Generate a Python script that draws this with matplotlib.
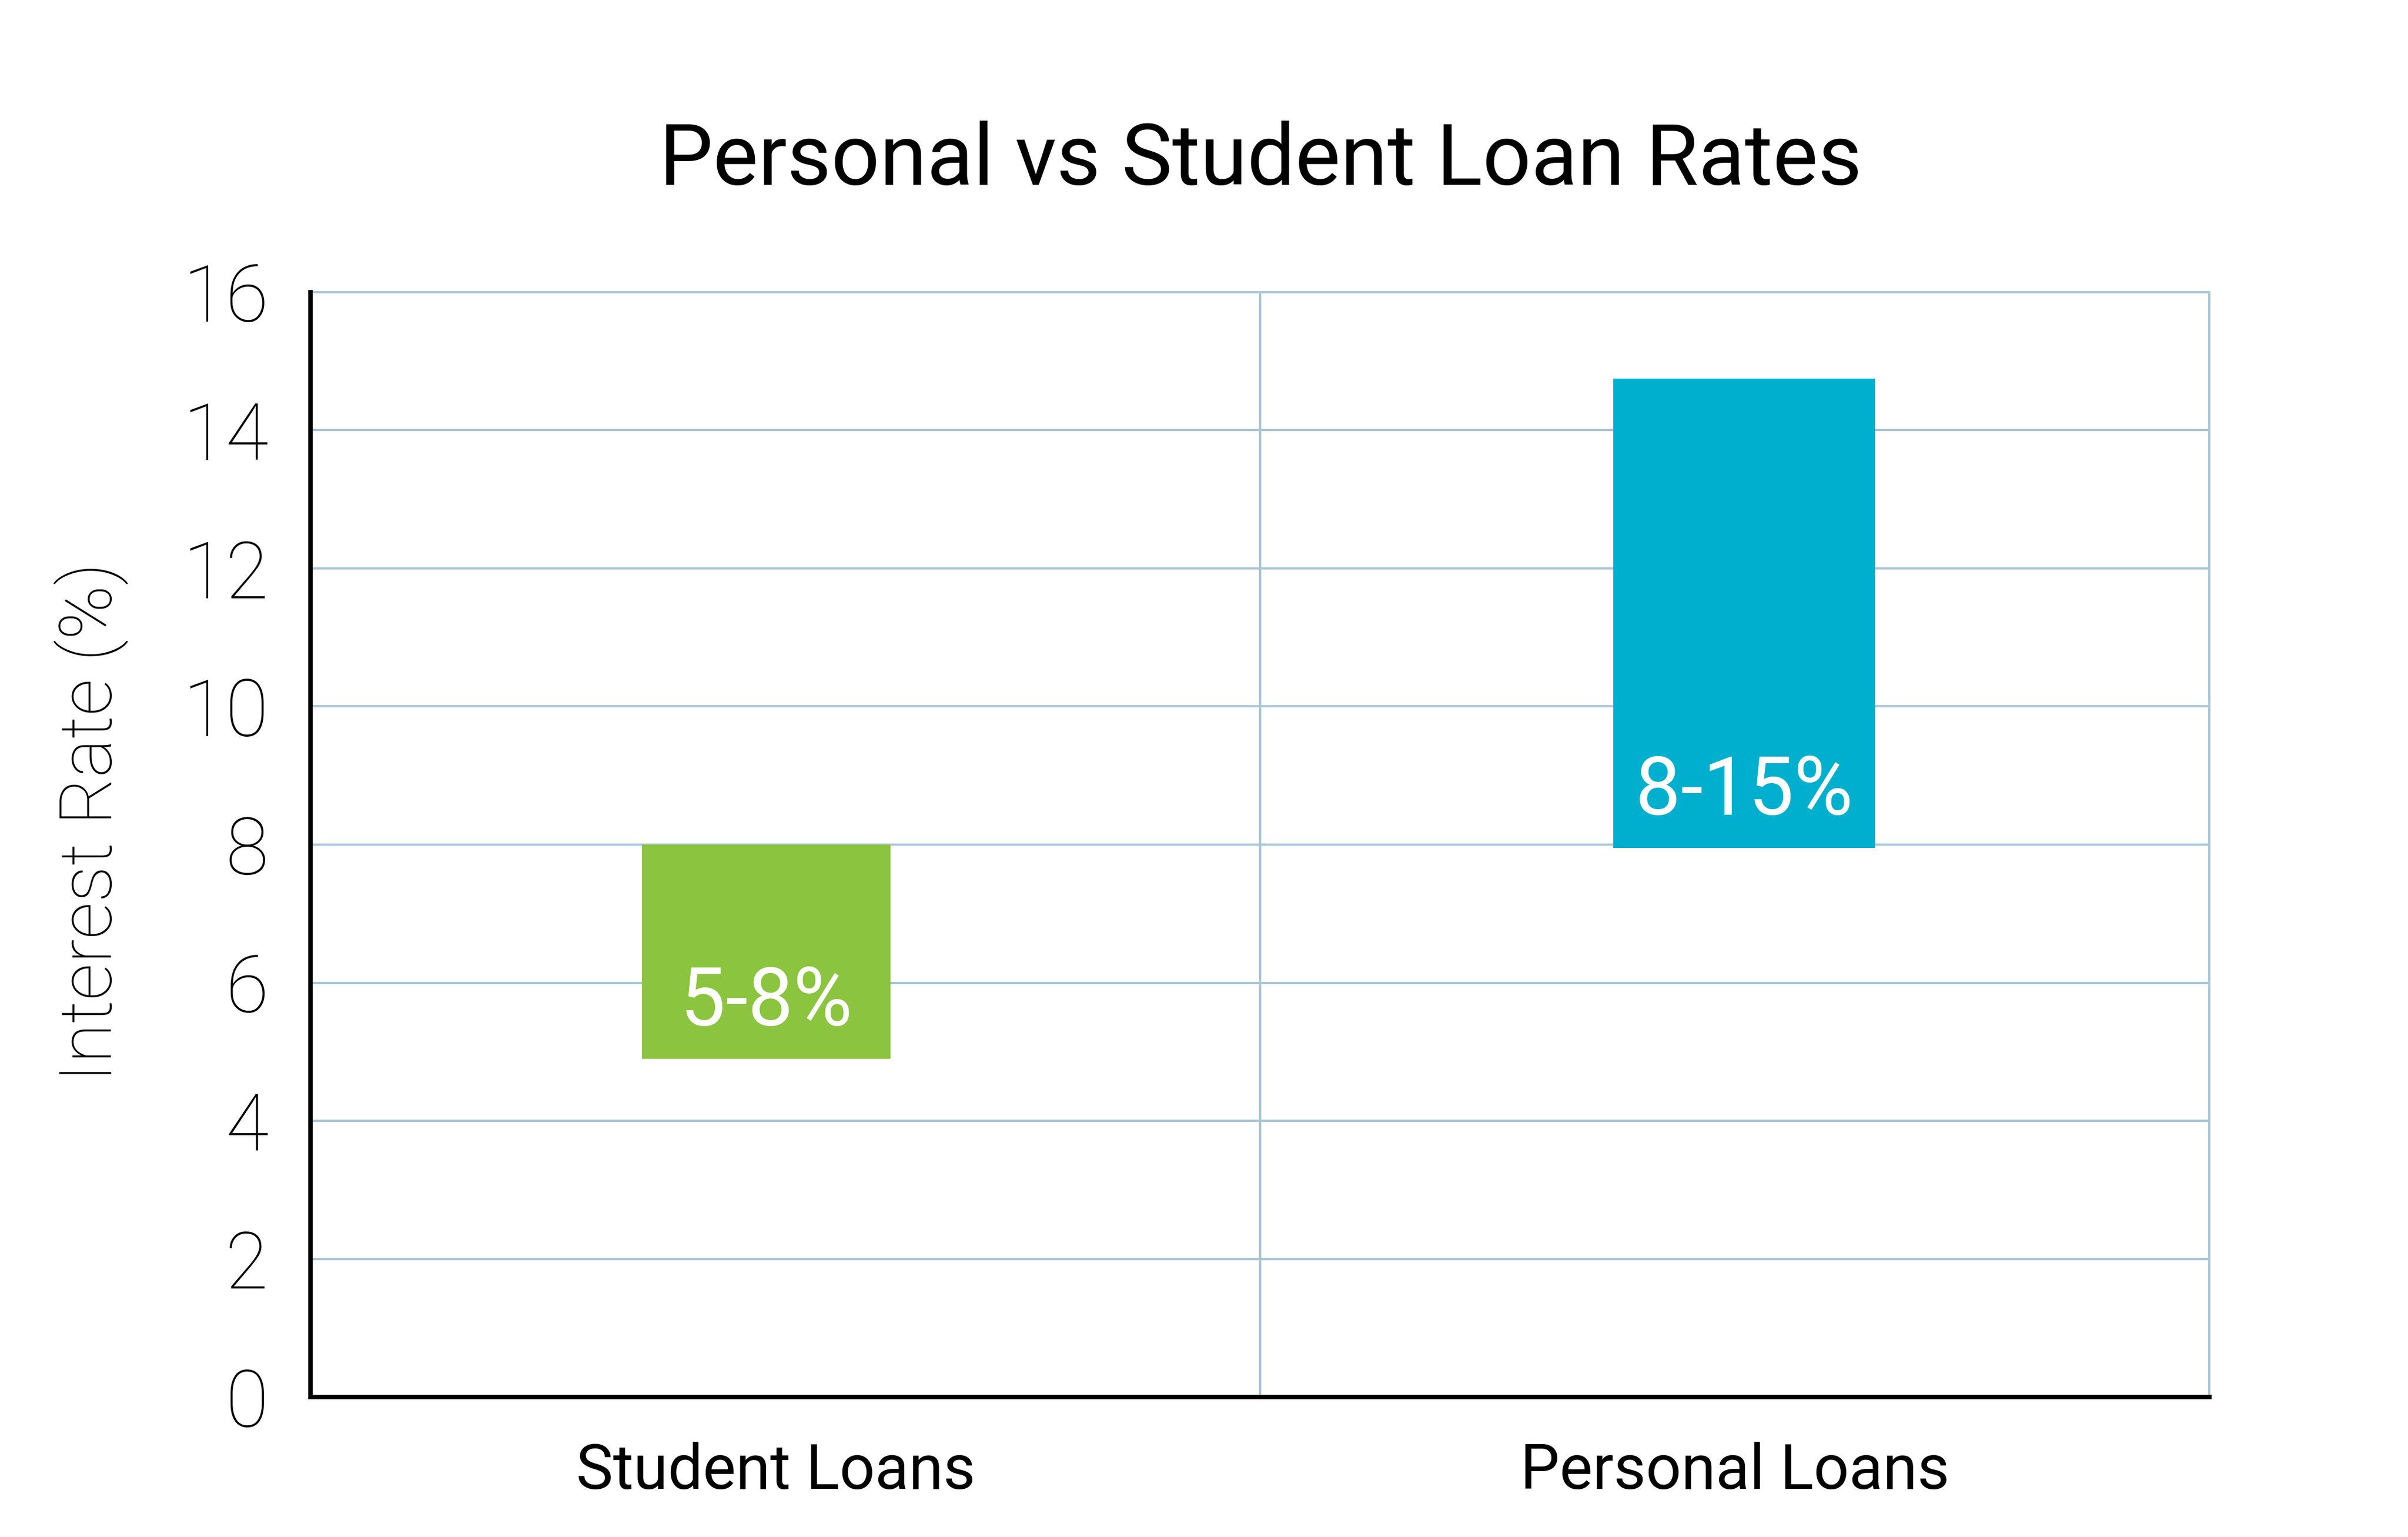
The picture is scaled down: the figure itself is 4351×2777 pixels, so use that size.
import matplotlib.pyplot as plt

# data
categories = ['Student Loans', 'Personal Loans']
rate_low = [4.9, 7.95]
rate_high = [8.0, 14.75]
bar_labels = ['5-8%', '8-15%']
bar_colors = ['#8bc43f', '#00afcd']
y_ticks = [0, 2, 4, 6, 8, 10, 12, 14, 16]

grid_color = '#a9c6d6'

fig = plt.figure(figsize=(43.51, 27.77), dpi=100)
ax = fig.add_axes([0.129, 0.091, 0.7885, 0.719])

# bars float from low to high rate
x_pos = [0.48, 1.51]
widths = [0.262, 0.276]
heights = [h - l for l, h in zip(rate_low, rate_high)]
ax.bar(x_pos, heights, bottom=rate_low, width=widths, color=bar_colors, zorder=3)

# label inside the lower part of each bar
for x, low, lab in zip(x_pos, rate_low, bar_labels):
    ax.text(x, low + 0.8, lab, ha='center', va='center', color='white',
            fontsize=105, family='Roboto', zorder=4)

ax.set_xlim(0, 2)
ax.set_ylim(0, 16)
ax.set_yticks(y_ticks)
ax.set_yticklabels([str(t) for t in y_ticks], fontsize=102, family='Roboto',
                   fontweight='light')
ax.set_xticks([0.49, 1.5])
ax.set_xticklabels(categories, fontsize=81, family='Roboto')
ax.tick_params(axis='y', length=0, pad=55)
ax.tick_params(axis='x', length=0, pad=58)

# grid: horizontal every 2, vertical between categories
for t in y_ticks[1:]:
    ax.axhline(t, color=grid_color, lw=2.9, zorder=1)
ax.axvline(1, color=grid_color, lw=2.9, zorder=1)

for side in ['top', 'right']:
    ax.spines[side].set_color(grid_color)
    ax.spines[side].set_linewidth(2.9)
for side in ['left', 'bottom']:
    ax.spines[side].set_color('black')
    ax.spines[side].set_linewidth(5.8)
    ax.spines[side].set_zorder(5)

ax.set_ylabel('Interest Rate (%)', fontsize=95, family='Roboto',
              fontweight='light')
ax.yaxis.set_label_coords(-0.096, 0.52)

fig.text(0.5235, 0.895, 'Personal vs Student Loan Rates', ha='center',
         va='center', fontsize=111, family='Roboto')

fig.savefig('out.png', dpi=100, facecolor='white')
